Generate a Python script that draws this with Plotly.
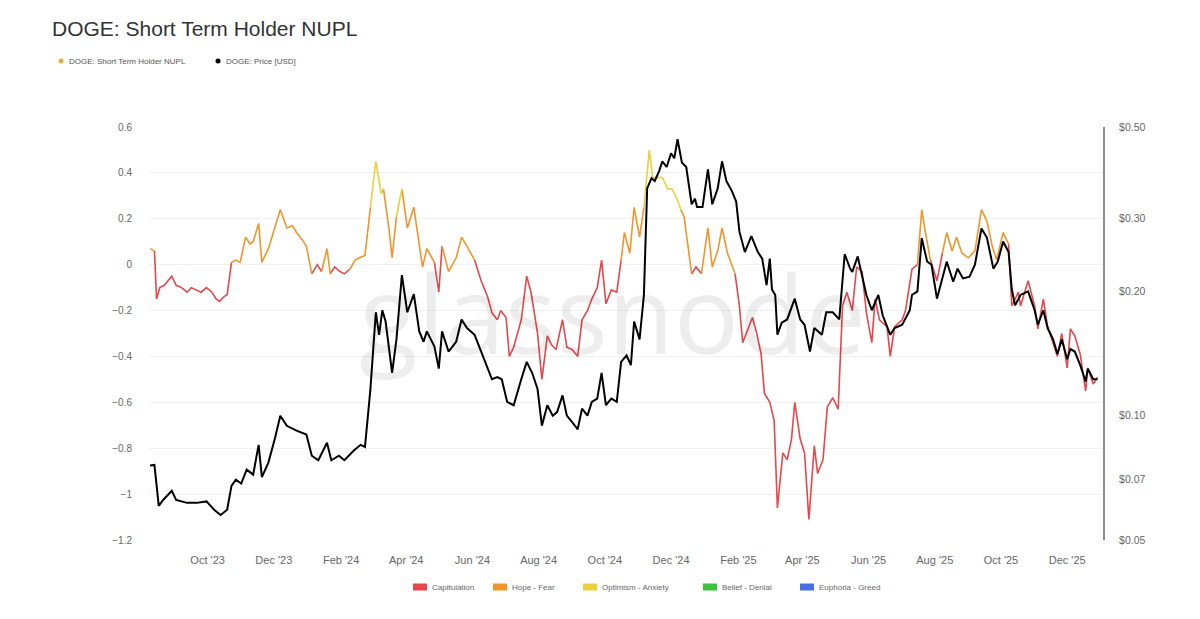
import math
import plotly.graph_objects as go

# ---------------- data ----------------
nupl_dates = [
    "2023-08-09", "2023-08-13", "2023-08-15", "2023-08-18", "2023-08-22", "2023-08-29", "2023-09-02", "2023-09-07", "2023-09-12", "2023-09-16",
    "2023-09-21", "2023-09-25", "2023-09-30", "2023-10-05", "2023-10-09", "2023-10-12", "2023-10-16", "2023-10-19", "2023-10-23", "2023-10-27",
    "2023-10-31", "2023-11-05", "2023-11-09", "2023-11-12", "2023-11-17", "2023-11-20", "2023-11-26", "2023-12-02", "2023-12-07", "2023-12-13",
    "2023-12-18", "2023-12-22", "2023-12-27", "2023-12-31", "2024-01-05", "2024-01-10", "2024-01-14", "2024-01-19", "2024-01-22", "2024-01-26",
    "2024-01-31", "2024-02-04", "2024-02-09", "2024-02-14", "2024-02-18", "2024-02-23", "2024-02-28", "2024-03-04", "2024-03-09", "2024-03-11",
    "2024-03-16", "2024-03-19", "2024-03-23", "2024-03-28", "2024-04-02", "2024-04-08", "2024-04-13", "2024-04-16", "2024-04-20", "2024-04-27",
    "2024-05-01", "2024-05-04", "2024-05-10", "2024-05-17", "2024-05-22", "2024-05-27", "2024-06-03", "2024-06-09", "2024-06-15", "2024-06-19",
    "2024-06-24", "2024-06-27", "2024-07-02", "2024-07-05", "2024-07-09", "2024-07-16", "2024-07-21", "2024-07-25", "2024-07-31", "2024-08-04",
    "2024-08-09", "2024-08-13", "2024-08-17", "2024-08-23", "2024-08-27", "2024-09-01", "2024-09-06", "2024-09-10", "2024-09-15", "2024-09-19",
    "2024-09-24", "2024-09-28", "2024-10-02", "2024-10-07", "2024-10-12", "2024-10-16", "2024-10-19", "2024-10-24", "2024-10-28", "2024-11-02",
    "2024-11-06", "2024-11-11", "2024-11-14", "2024-11-18", "2024-11-23", "2024-11-28", "2024-12-02", "2024-12-07", "2024-12-10", "2024-12-13",
    "2024-12-20", "2024-12-24", "2024-12-29", "2025-01-04", "2025-01-08", "2025-01-13", "2025-01-17", "2025-01-22", "2025-01-29", "2025-02-02",
    "2025-02-05", "2025-02-10", "2025-02-14", "2025-02-18", "2025-02-22", "2025-02-25", "2025-03-02", "2025-03-06", "2025-03-09", "2025-03-14",
    "2025-03-18", "2025-03-22", "2025-03-25", "2025-03-30", "2025-04-03", "2025-04-07", "2025-04-12", "2025-04-15", "2025-04-20", "2025-04-24",
    "2025-04-29", "2025-05-04", "2025-05-08", "2025-05-12", "2025-05-17", "2025-05-21", "2025-05-26", "2025-05-30", "2025-06-04", "2025-06-07",
    "2025-06-11", "2025-06-18", "2025-06-21", "2025-06-25", "2025-07-02", "2025-07-05", "2025-07-11", "2025-07-16", "2025-07-20", "2025-07-23",
    "2025-07-28", "2025-08-03", "2025-08-08", "2025-08-12", "2025-08-17", "2025-08-21", "2025-08-26", "2025-09-01", "2025-09-07", "2025-09-13",
    "2025-09-18", "2025-09-23", "2025-09-27", "2025-10-03", "2025-10-08", "2025-10-11", "2025-10-17", "2025-10-19", "2025-10-26", "2025-11-01",
    "2025-11-04", "2025-11-09", "2025-11-13", "2025-11-22", "2025-11-26", "2025-12-01", "2025-12-04", "2025-12-08", "2025-12-13", "2025-12-18",
    "2025-12-20", "2025-12-25", "2025-12-29",
]
nupl_values = [
    0.07, 0.06, -0.15, -0.10, -0.09, -0.05, -0.09, -0.10, -0.12, -0.10,
    -0.11, -0.12, -0.10, -0.12, -0.15, -0.16, -0.14, -0.13, 0.01, 0.02,
    0.01, 0.12, 0.09, 0.10, 0.18, 0.01, 0.07, 0.16, 0.24, 0.16,
    0.17, 0.14, 0.11, 0.08, -0.04, 0.00, -0.03, 0.07, -0.04, -0.01,
    -0.03, -0.04, -0.02, 0.02, 0.03, 0.04, 0.25, 0.45, 0.31, 0.33,
    0.16, 0.03, 0.21, 0.33, 0.16, 0.25, 0.08, -0.01, 0.07, 0.01,
    -0.12, 0.08, -0.03, 0.03, 0.12, 0.08, 0.02, -0.07, -0.14, -0.21,
    -0.24, -0.20, -0.23, -0.40, -0.36, -0.24, -0.05, -0.12, -0.30, -0.50,
    -0.31, -0.35, -0.37, -0.24, -0.36, -0.37, -0.40, -0.24, -0.20, -0.15,
    -0.10, 0.02, -0.17, -0.11, -0.12, 0.02, 0.14, 0.05, 0.25, 0.12,
    0.25, 0.50, 0.38, 0.38, 0.38, 0.33, 0.33, 0.28, 0.24, 0.21,
    -0.04, -0.01, -0.04, 0.16, -0.01, 0.06, 0.16, 0.05, -0.04, -0.18,
    -0.34, -0.28, -0.23, -0.30, -0.39, -0.56, -0.60, -0.68, -1.06, -0.82,
    -0.85, -0.76, -0.60, -0.76, -0.82, -1.11, -0.79, -0.91, -0.85, -0.62,
    -0.58, -0.63, -0.18, -0.12, -0.20, -0.01, -0.03, -0.21, -0.34, -0.15,
    -0.24, -0.27, -0.40, -0.27, -0.24, -0.20, -0.02, 0.00, 0.24, 0.15,
    0.02, -0.07, 0.05, 0.14, 0.06, 0.12, 0.05, 0.03, 0.06, 0.24,
    0.19, 0.08, 0.02, 0.14, 0.09, -0.18, -0.12, -0.18, -0.07, -0.18,
    -0.28, -0.15, -0.27, -0.40, -0.30, -0.45, -0.28, -0.31, -0.39, -0.55,
    -0.45, -0.52, -0.49,
]

price_dates = [
    "2023-08-09", "2023-08-13", "2023-08-17", "2023-08-21", "2023-08-29", "2023-09-02", "2023-09-12", "2023-09-21", "2023-09-30", "2023-10-07",
    "2023-10-13", "2023-10-19", "2023-10-23", "2023-10-27", "2023-11-01", "2023-11-06", "2023-11-12", "2023-11-17", "2023-11-20", "2023-11-26",
    "2023-12-02", "2023-12-07", "2023-12-13", "2023-12-22", "2023-12-31", "2024-01-05", "2024-01-11", "2024-01-19", "2024-01-23", "2024-01-30",
    "2024-02-04", "2024-02-13", "2024-02-19", "2024-02-23", "2024-02-28", "2024-03-04", "2024-03-07", "2024-03-10", "2024-03-13", "2024-03-16",
    "2024-03-19", "2024-03-23", "2024-03-28", "2024-04-02", "2024-04-08", "2024-04-13", "2024-04-17", "2024-04-20", "2024-04-27", "2024-05-01",
    "2024-05-04", "2024-05-10", "2024-05-17", "2024-05-22", "2024-05-27", "2024-06-03", "2024-06-09", "2024-06-15", "2024-06-19", "2024-06-24",
    "2024-06-28", "2024-07-03", "2024-07-09", "2024-07-16", "2024-07-21", "2024-07-26", "2024-07-31", "2024-08-04", "2024-08-09", "2024-08-14",
    "2024-08-18", "2024-08-23", "2024-08-27", "2024-09-01", "2024-09-06", "2024-09-10", "2024-09-15", "2024-09-19", "2024-09-24", "2024-09-28",
    "2024-10-02", "2024-10-07", "2024-10-12", "2024-10-16", "2024-10-21", "2024-10-25", "2024-10-28", "2024-11-02", "2024-11-06", "2024-11-09",
    "2024-11-13", "2024-11-16", "2024-11-20", "2024-11-23", "2024-11-27", "2024-12-01", "2024-12-04", "2024-12-07", "2024-12-11", "2024-12-15",
    "2024-12-20", "2024-12-23", "2024-12-25", "2024-12-30", "2025-01-04", "2025-01-08", "2025-01-13", "2025-01-17", "2025-01-21", "2025-01-26",
    "2025-01-30", "2025-02-02", "2025-02-07", "2025-02-13", "2025-02-19", "2025-02-23", "2025-02-27", "2025-03-02", "2025-03-04", "2025-03-07",
    "2025-03-09", "2025-03-13", "2025-03-18", "2025-03-25", "2025-03-30", "2025-04-03", "2025-04-08", "2025-04-12", "2025-04-19", "2025-04-23",
    "2025-04-29", "2025-05-05", "2025-05-10", "2025-05-15", "2025-05-17", "2025-05-22", "2025-05-26", "2025-05-30", "2025-06-04", "2025-06-10",
    "2025-06-14", "2025-06-21", "2025-06-25", "2025-07-02", "2025-07-09", "2025-07-11", "2025-07-16", "2025-07-20", "2025-07-25", "2025-07-29",
    "2025-08-03", "2025-08-08", "2025-08-12", "2025-08-18", "2025-08-22", "2025-08-27", "2025-09-02", "2025-09-07", "2025-09-13", "2025-09-18",
    "2025-09-24", "2025-09-28", "2025-10-03", "2025-10-08", "2025-10-11", "2025-10-14", "2025-10-19", "2025-10-26", "2025-11-01", "2025-11-04",
    "2025-11-09", "2025-11-13", "2025-11-18", "2025-11-22", "2025-11-26", "2025-12-01", "2025-12-04", "2025-12-08", "2025-12-13", "2025-12-18",
    "2025-12-20", "2025-12-25", "2025-12-29",
]
price_values = [
    0.0757, 0.076, 0.0605, 0.0625, 0.0658, 0.0625, 0.0615, 0.0615, 0.062, 0.0592,
    0.0575, 0.0592, 0.0676, 0.070, 0.0685, 0.074, 0.072, 0.085, 0.071, 0.077,
    0.088, 0.100, 0.0945, 0.092, 0.090, 0.080, 0.078, 0.086, 0.078, 0.080,
    0.078, 0.0825, 0.085, 0.084, 0.116, 0.178, 0.157, 0.180, 0.169, 0.145,
    0.127, 0.153, 0.219, 0.178, 0.197, 0.160, 0.151, 0.160, 0.147, 0.130,
    0.160, 0.143, 0.151, 0.171, 0.163, 0.157, 0.143, 0.130, 0.1225, 0.124,
    0.1225, 0.108, 0.106, 0.1225, 0.135, 0.127, 0.116, 0.0946, 0.106, 0.100,
    0.102, 0.112, 0.100, 0.0964, 0.0927, 0.104, 0.100, 0.108, 0.110, 0.127,
    0.106, 0.110, 0.108, 0.135, 0.140, 0.1325, 0.169, 0.153, 0.196, 0.355,
    0.376, 0.370, 0.391, 0.413, 0.400, 0.432, 0.420, 0.467, 0.410, 0.400,
    0.325, 0.335, 0.320, 0.320, 0.395, 0.325, 0.355, 0.413, 0.370, 0.350,
    0.330, 0.279, 0.249, 0.272, 0.249, 0.240, 0.207, 0.240, 0.202, 0.196,
    0.157, 0.168, 0.171, 0.192, 0.171, 0.166, 0.143, 0.163, 0.157, 0.178,
    0.178, 0.171, 0.246, 0.227, 0.223, 0.243, 0.219, 0.196, 0.180, 0.196,
    0.175, 0.157, 0.163, 0.166, 0.180, 0.196, 0.200, 0.269, 0.236, 0.232,
    0.192, 0.215, 0.236, 0.211, 0.227, 0.215, 0.217, 0.232, 0.284, 0.270,
    0.227, 0.236, 0.264, 0.249, 0.202, 0.185, 0.196, 0.200, 0.180, 0.166,
    0.180, 0.163, 0.153, 0.141, 0.153, 0.137, 0.145, 0.143, 0.1325, 0.121,
    0.130, 0.1225, 0.1225,
]

zone_names = ["Capitulation", "Hope - Fear", "Optimism - Anxiety", "Belief - Denial", "Euphoria - Greed"]
zone_lower = [-math.inf, 0.0, 0.25, 0.5, 0.75]
zone_colors = ["#e6474b", "#f0952c", "#eccf3a", "#3cc23c", "#4a6fe3"]

price_ticks = [0.05, 0.07, 0.10, 0.20, 0.30, 0.50]
price_tick_text = ["$" + format(v, ".2f") for v in price_ticks]
x_range = ["2023-08-08", "2026-01-03"]
nupl_range = [-1.2, 0.6]
price_range = [0.05, 0.5]

# ---------------- layout constants (pixels) ----------------
FIG_W, FIG_H = 1200, 619
L, R, T, B = 149, 97, 127, 79
PW, PH = FIG_W - L - R, FIG_H - T - B


def px(xp):
    return (xp - L) / PW


def py(yp):
    return (T + PH - yp) / PH


def zone_of(v):
    idx = 0
    for i, lo in enumerate(zone_lower):
        if v >= lo:
            idx = i
    return idx


# split the NUPL line into coloured segments by zone
seg_x = [[] for _ in zone_names]
seg_y = [[] for _ in zone_names]
for i in range(len(nupl_values) - 1):
    z = zone_of((nupl_values[i] + nupl_values[i + 1]) / 2)
    xs, ys = seg_x[z], seg_y[z]
    if xs and xs[-1] == nupl_dates[i]:
        xs.append(nupl_dates[i + 1])
        ys.append(nupl_values[i + 1])
    else:
        if xs:
            xs.append(None)
            ys.append(None)
        xs += [nupl_dates[i], nupl_dates[i + 1]]
        ys += [nupl_values[i], nupl_values[i + 1]]

fig = go.Figure()
for z, name in enumerate(zone_names):
    if seg_x[z]:
        fig.add_trace(go.Scatter(
            x=seg_x[z], y=seg_y[z], mode="lines", name=name,
            line=dict(color=zone_colors[z], width=1.6),
            connectgaps=False, showlegend=False, yaxis="y",
        ))

fig.add_trace(go.Scatter(
    x=price_dates, y=price_values, mode="lines", name="DOGE: Price [USD]",
    line=dict(color="#000000", width=2), showlegend=False, yaxis="y2",
))

TXT = "Liberation Sans, Arial, Helvetica, sans-serif"

annotations = [
    dict(text="glassnode", x=px(612), y=py(312), xref="paper", yref="paper",
         showarrow=False, xanchor="center", yanchor="middle",
         font=dict(family="Open Sans, sans-serif", size=108, color="rgba(0,0,0,0.07)")),
    dict(text="DOGE: Short Term Holder NUPL", x=px(67), y=py(61), xref="paper", yref="paper",
         showarrow=False, xanchor="left", yanchor="middle",
         font=dict(family=TXT, size=8, color="#555555")),
    dict(text="DOGE: Price [USD]", x=px(224), y=py(61), xref="paper", yref="paper",
         showarrow=False, xanchor="left", yanchor="middle",
         font=dict(family=TXT, size=8, color="#555555")),
]
shapes = [
    dict(type="circle", xref="paper", yref="paper", x0=px(58.5), x1=px(63.5), y0=py(63.5), y1=py(58.5),
         fillcolor="#e3b03a", line=dict(width=0)),
    dict(type="circle", xref="paper", yref="paper", x0=px(215.5), x1=px(220.5), y0=py(63.5), y1=py(58.5),
         fillcolor="#000000", line=dict(width=0)),
]

# zone colour key along the bottom (kept just below the date labels)
zone_key_left = [413, 493, 583, 703, 800]
KEY_Y = 587
for z, name in enumerate(zone_names):
    x0 = zone_key_left[z]
    shapes.append(dict(type="rect", xref="paper", yref="paper", x0=px(x0), x1=px(x0 + 14),
                       y0=py(KEY_Y + 3.5), y1=py(KEY_Y - 3.5), fillcolor=zone_colors[z], line=dict(width=0)))
    annotations.append(dict(text=name, x=px(x0 + 17), y=py(KEY_Y), xref="paper", yref="paper",
                            showarrow=False, xanchor="left", yanchor="middle",
                            font=dict(family=TXT, size=8, color="#666666")))

fig.update_layout(
    width=FIG_W, height=FIG_H, autosize=False,
    margin=dict(l=L, r=R, t=T, b=B, pad=0),
    paper_bgcolor="white", plot_bgcolor="white",
    showlegend=False,
    title=dict(text="DOGE: Short Term Holder NUPL", x=52 / FIG_W, xref="container", xanchor="left",
               y=1 - 29 / FIG_H, yref="container", yanchor="middle",
               font=dict(family=TXT, size=21, color="#333333")),
    xaxis=dict(type="date", range=x_range, tickformat="%b '%y", dtick="M2", tick0="2023-10-01",
               showgrid=False, zeroline=False, showline=False, ticks="",
               tickfont=dict(family=TXT, size=11, color="#666666"), ticklabelstandoff=12),
    yaxis=dict(range=nupl_range, dtick=0.2, tick0=0, showgrid=True, gridcolor="#f1f1f1", gridwidth=1,
               zeroline=False, showline=False, ticks="",
               tickfont=dict(family=TXT, size=10, color="#666666"), ticklabelstandoff=16),
    yaxis2=dict(type="log", range=[math.log10(price_range[0]), math.log10(price_range[1])],
                overlaying="y", side="right", tickmode="array", tickvals=price_ticks, ticktext=price_tick_text,
                showgrid=False, zeroline=False, showline=True, linecolor="#8c8c8c", linewidth=2, ticks="",
                tickfont=dict(family=TXT, size=10.5, color="#666666"), ticklabelstandoff=12),
    annotations=annotations,
    shapes=shapes,
    hovermode="x unified",
)

fig.write_html("out.html", config={"displayModeBar": False})
